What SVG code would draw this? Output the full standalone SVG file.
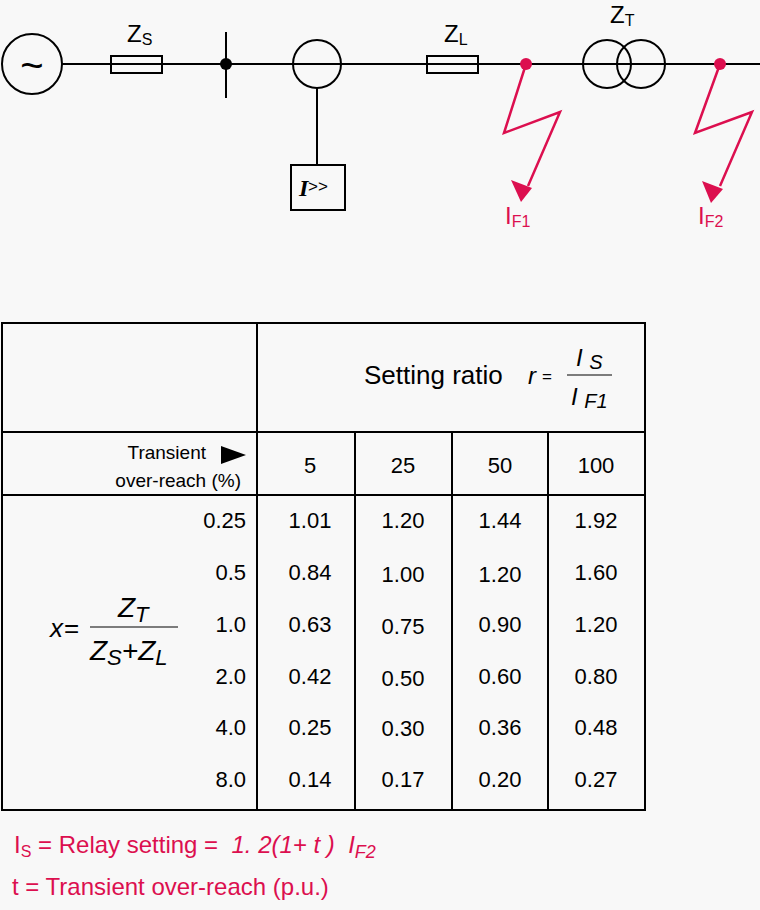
<svg xmlns="http://www.w3.org/2000/svg" width="760" height="910" viewBox="0 0 760 910">
<style>
.k{stroke:#000;stroke-width:2;fill:none}
.r{stroke:#dc0f4f;stroke-width:2.5;fill:none}
text{font-family:"Liberation Sans",Arial,sans-serif;fill:#000}
.rt{fill:#dc0f4f}
.c{text-anchor:middle;font-size:22px}
.e{text-anchor:end;font-size:22px}
.i{font-style:italic}
</style>
<rect width="760" height="910" fill="#f8f8f8"/>
<g id="connectors">
<line class="k" x1="62" y1="64" x2="760" y2="64"/>
<line class="k" x1="226" y1="32" x2="226" y2="98"/>
<line class="k" x1="317" y1="88" x2="317" y2="165"/>
<polyline class="r" points="526,64 504,133 560,112 528,186"/>
<polygon points="521,202 511,180 532,188" fill="#dc0f4f"/>
<polyline class="r" points="720,64 695,133 752,112 720,186"/>
<polygon points="711,203 702,181 723,189" fill="#dc0f4f"/>
</g>
<g id="source"><circle class="k" cx="32" cy="64" r="30" fill="#f8f8f8"/><text x="32" y="79" text-anchor="middle" font-size="40">~</text></g>
<g id="zs"><rect class="k" x="111" y="56" width="51" height="17" fill="#f8f8f8"/><text x="127" y="42" font-size="24">Z<tspan font-size="16" dy="3">S</tspan></text></g>
<g id="bus"><circle cx="226" cy="64" r="6" fill="#000"/></g>
<g id="ct"><circle class="k" cx="317" cy="64" r="24"/></g>
<g id="relay"><rect class="k" x="291" y="165" width="54" height="45"/><text x="299" y="196" font-size="24" font-style="italic" font-weight="bold" style="font-family:'Liberation Serif',serif">I</text><text x="308" y="192" font-size="17">&gt;&gt;</text></g>
<g id="zl"><rect class="k" x="427" y="56" width="51" height="17" fill="#f8f8f8"/><text x="444" y="42" font-size="24">Z<tspan font-size="16" dy="3">L</tspan></text></g>
<g id="f1"><circle cx="526" cy="64" r="6" fill="#dc0f4f"/><text class="rt" x="505" y="224" font-size="24">I<tspan font-size="16" dy="3">F1</tspan></text></g>
<g id="transformer"><circle class="k" cx="607" cy="64" r="24" fill="#f8f8f8"/><circle class="k" cx="641" cy="64" r="24"/><text x="610" y="23" font-size="24">Z<tspan font-size="16" dy="3">T</tspan></text></g>
<g id="f2"><circle cx="720" cy="64" r="6" fill="#dc0f4f"/><text class="rt" x="698" y="224" font-size="24">I<tspan font-size="16" dy="3">F2</tspan></text></g>
<g id="table">
<rect class="k" x="2" y="323" width="643" height="487"/>
<line class="k" x1="257" y1="323" x2="257" y2="810"/>
<line class="k" x1="2" y1="432" x2="645" y2="432"/>
<line class="k" x1="2" y1="495" x2="645" y2="495"/>
<line class="k" x1="355" y1="432" x2="355" y2="810"/>
<line class="k" x1="452" y1="432" x2="452" y2="810"/>
<line class="k" x1="548" y1="432" x2="548" y2="810"/>
<text x="364" y="384" font-size="26">Setting ratio</text>
<text x="528" y="384" font-size="24" class="i">r</text>
<text x="542" y="382" font-size="17">=</text>
<line stroke="#000" stroke-width="1" x1="567" y1="375" x2="612" y2="375"/>
<text x="576" y="366" font-size="24" class="i">I <tspan font-size="20" dy="3">S</tspan></text>
<text x="571" y="405" font-size="24" class="i">I <tspan font-size="20" dy="3">F1</tspan></text>
<text x="206" y="459" text-anchor="end" font-size="19">Transient</text>
<text x="241" y="487" text-anchor="end" font-size="19">over-reach (%)</text>
<polygon points="221,446 246,455 221,464" fill="#000"/>
<text x="310" y="473" class="c">5</text><text x="403" y="473" class="c">25</text><text x="500" y="473" class="c">50</text><text x="596" y="473" class="c">100</text>
<text x="246" y="528" class="e">0.25</text><text x="246" y="580" class="e">0.5</text><text x="246" y="632" class="e">1.0</text><text x="246" y="684" class="e">2.0</text><text x="246" y="735" class="e">4.0</text><text x="246" y="787" class="e">8.0</text>
<text x="310" y="528" class="c">1.01</text><text x="403" y="528" class="c">1.20</text><text x="500" y="528" class="c">1.44</text><text x="596" y="528" class="c">1.92</text>
<text x="310" y="580" class="c">0.84</text><text x="403" y="582" class="c">1.00</text><text x="500" y="582" class="c">1.20</text><text x="596" y="580" class="c">1.60</text>
<text x="310" y="632" class="c">0.63</text><text x="403" y="634" class="c">0.75</text><text x="500" y="632" class="c">0.90</text><text x="596" y="632" class="c">1.20</text>
<text x="310" y="684" class="c">0.42</text><text x="403" y="686" class="c">0.50</text><text x="500" y="684" class="c">0.60</text><text x="596" y="684" class="c">0.80</text>
<text x="310" y="735" class="c">0.25</text><text x="403" y="736" class="c">0.30</text><text x="500" y="735" class="c">0.36</text><text x="596" y="735" class="c">0.48</text>
<text x="310" y="787" class="c">0.14</text><text x="403" y="787" class="c">0.17</text><text x="500" y="787" class="c">0.20</text><text x="596" y="787" class="c">0.27</text>
<text x="50" y="637" font-size="26" class="i">x</text>
<text x="64" y="637" font-size="26">=</text>
<line stroke="#000" stroke-width="1.2" x1="90" y1="627" x2="178" y2="627"/>
<text x="118" y="617" font-size="28" class="i">Z<tspan font-size="22" dy="5">T</tspan></text>
<text x="90" y="660" font-size="28" class="i">Z<tspan font-size="22" dy="5">S</tspan><tspan dy="-5">+Z</tspan><tspan font-size="22" dy="5">L</tspan></text>
</g>
<g id="notes">
<text class="rt" x="14" y="853" font-size="24">I<tspan font-size="16" dy="4">S</tspan><tspan dy="-4"> = Relay setting = </tspan><tspan class="i" xml:space="preserve"> 1. 2(1+ t )  I</tspan><tspan class="i" font-size="18" dy="5">F2</tspan></text>
<text class="rt" x="12" y="895" font-size="24">t = Transient over-reach (p.u.)</text>
</g>
</svg>
